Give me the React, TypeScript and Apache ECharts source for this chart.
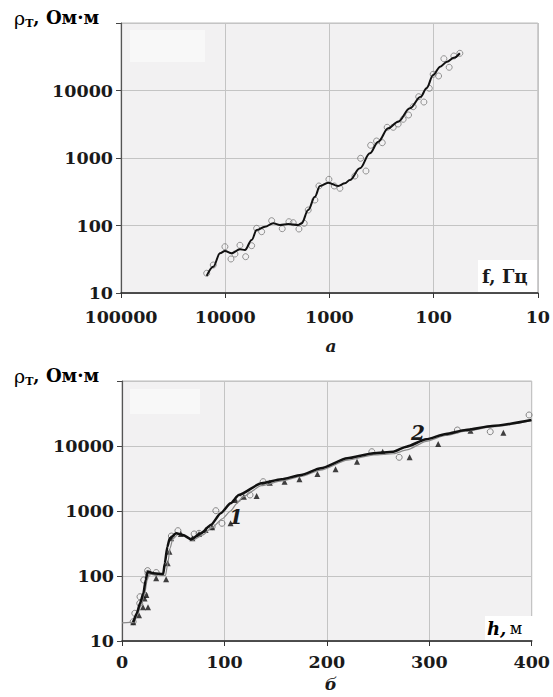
import React, { useEffect, useRef } from "react";
import * as echarts from "echarts";

// ---- Chart a: apparent resistivity vs frequency ----
const topLineF = [15060, 13020, 11230, 10060, 8670, 7220, 6465, 5575, 4993, 4156, 3460, 2984, 2485, 1992, 1848, 1597, 1378, 1233, 1027, 823, 710, 636, 510, 409, 340, 273, 219, 169, 133, 117, 101, 86.5, 74.3, 64, 56];
const topLineRho = [17.9, 24.5, 38.7, 41.9, 38.7, 44.4, 43.4, 61, 85.8, 96, 107.8, 101.7, 105.2, 101.7, 107.8, 170, 267, 385, 431, 385, 422, 472, 704, 1174, 1744, 2754, 3450, 5450, 8090, 10800, 16970, 22530, 26700, 30500, 35600];
const topPtF = [15060, 13020, 10060, 8810, 8065, 7220, 6365, 5575, 4993, 4472, 3584, 2837, 2447, 2225, 1961, 1745, 1597, 1378, 1261, 1011, 899, 793, 569, 502, 446, 402, 353, 311, 279, 244, 219, 196, 174, 157, 139, 124, 110, 101, 89.6, 79.7, 70.9, 64, 56];
const topPtRho = [19.6, 26.0, 48.5, 31.9, 37.8, 50.9, 34.5, 50.2, 90.9, 80.9, 117.8, 89.7, 113.8, 110, 88.7, 107.8, 169.7, 238.6, 385, 483, 385, 356, 541, 990, 642, 1542, 1786, 1685, 2850, 2850, 3190, 3745, 4335, 5750, 8090, 6750, 10780, 17380, 16400, 29580, 22070, 32430, 35580];

// ---- Chart б: resistivity vs depth ----
const curve1H = [0, 12, 15, 18.5, 22, 24.5, 26.5, 32, 42.5, 44.5, 47, 49.5, 55, 61, 69, 79, 88, 98, 106, 112, 118, 136, 156, 175, 194, 220, 246, 265, 278, 297, 316, 335, 361, 400];
const curve1Rho = [19, 19.5, 25, 36, 52, 85, 108, 104, 102, 150, 270, 370, 440, 415, 355, 430, 560, 760, 1000, 1300, 1650, 2450, 2900, 3400, 4250, 6050, 7300, 7600, 8700, 11800, 14500, 16900, 19600, 24500];
const curve2H = [11, 14.5, 17.6, 20.9, 23.1, 25, 30.5, 40.2, 41.8, 44.3, 46.6, 53, 59.5, 67.5, 77.1, 86.7, 96.4, 106, 114, 136.2, 155.5, 174.8, 194, 219.8, 245.5, 264.8, 277.6, 296.9, 316.1, 335.4, 361.2, 399.7];
const curve2Rho = [19.5, 26.7, 38, 54, 86.8, 116, 110, 107, 157, 282, 380, 454, 427, 367, 454, 609, 922, 1313, 1763, 2667, 3074, 3580, 4540, 6470, 7720, 8170, 9750, 12680, 15300, 17620, 20300, 25100];
const circH = [10.9, 12.5, 17.3, 17.6, 21.2, 22.2, 25, 25.4, 33.4, 48.2, 54.6, 70.4, 75.2, 88, 91.6, 97.6, 114, 125, 137.8, 243.9, 270.6, 327.4, 359.5, 397.4];
const circRho = [19.8, 26.7, 38, 48, 86.8, 51, 121, 110, 113, 412, 498, 443, 454, 573, 1011, 647, 1567, 1763, 2825, 8170, 6700, 17620, 16600, 30000];
const triH = [11, 16.6, 20.5, 22, 23.8, 25.4, 33.4, 43.1, 44.6, 46.3, 47.9, 57.5, 68.7, 75.2, 81.6, 88, 106, 110.5, 119, 131.4, 144.3, 158.7, 173.2, 190.8, 208.5, 229.4, 254.5, 280.8, 308.7, 340.2, 372.3];
const triRho = [19.5, 25, 33, 45, 51, 33, 92, 89, 157, 237, 380, 443, 380, 443, 510, 561, 650, 1476, 1650, 1701, 2724, 2825, 3074, 3708, 4384, 5730, 8170, 6700, 10730, 17200, 16030];

const topXTicks = [100000, 10000, 1000, 100, 10];
const bottomXTicks = [0, 100, 200, 300, 400];

const zip = (a: number[], b: number[]) => a.map((v, i) => [v, b[i]]);

const FONT = "DejaVu Serif";
const labelStyle = { fontFamily: FONT, fontWeight: "bold" as const, fontSize: 17.5, color: "#1a1a1a" };

function yAxis(gridIndex: number) {
  return {
    gridIndex,
    type: "log",
    logBase: 10,
    min: 10,
    max: 100000,
    axisLine: { show: true, lineStyle: { color: "#555", width: 1.2 } },
    axisTick: { show: true, length: 5, lineStyle: { color: "#444" } },
    axisLabel: {
      ...labelStyle,
      margin: 8,
      formatter: (v: number) => (Math.round(v) >= 100000 ? "" : String(Math.round(v))),
    },
    splitLine: { show: true, lineStyle: { color: "#c4c4c4", width: 1 } },
  };
}

const titleRich = {
  a: { fontFamily: FONT, fontSize: 19, color: "#1a1a1a" },
  b: { fontFamily: FONT, fontSize: 11, fontWeight: "bold", color: "#1a1a1a", padding: [11, 0, 0, 0] },
  c: { fontFamily: FONT, fontSize: 18, fontWeight: "bold", color: "#1a1a1a" },
};

export default function App() {
  const ref = useRef<HTMLDivElement>(null);
  useEffect(() => {
    if (!ref.current) return;
    const chart = echarts.init(ref.current, undefined, { renderer: "svg" });
    const option: any = {
      animation: false,
      backgroundColor: "#ffffff",
      grid: [
        { left: 121, top: 23, width: 417, height: 270, show: true, backgroundColor: "#f2f1f2", borderColor: "#bdbdbd", borderWidth: 1 },
        { left: 122, top: 381, width: 415, height: 260, show: true, backgroundColor: "#f2f1f2", borderColor: "#bdbdbd", borderWidth: 1 },
      ],
      xAxis: [
        {
          gridIndex: 0,
          type: "log",
          logBase: 10,
          min: topXTicks[topXTicks.length - 1],
          max: topXTicks[0],
          inverse: true,
          axisLine: { show: true, onZero: false, lineStyle: { color: "#222", width: 1.5 } },
          axisTick: { show: true, length: 5, lineStyle: { color: "#333" } },
          axisLabel: { ...labelStyle, margin: 15, formatter: (v: number) => String(Math.round(v)) },
          splitLine: { show: true, lineStyle: { color: "#c4c4c4", width: 1 } },
        },
        {
          gridIndex: 1,
          type: "value",
          min: bottomXTicks[0],
          max: bottomXTicks[bottomXTicks.length - 1],
          interval: 100,
          axisLine: { show: true, onZero: false, lineStyle: { color: "#222", width: 1.5 } },
          axisTick: { show: true, length: 5, lineStyle: { color: "#333" } },
          axisLabel: { ...labelStyle, margin: 12 },
          splitLine: { show: true, lineStyle: { color: "#c4c4c4", width: 1 } },
        },
      ],
      yAxis: [yAxis(0), yAxis(1)],
      series: [
        {
          type: "scatter",
          xAxisIndex: 0,
          yAxisIndex: 0,
          data: zip(topPtF, topPtRho),
          symbol: "circle",
          symbolSize: 6,
          itemStyle: { color: "rgba(0,0,0,0)", borderColor: "#7a7a7a", borderWidth: 1 },
          z: 2,
        },
        {
          type: "line",
          xAxisIndex: 0,
          yAxisIndex: 0,
          data: zip(topLineF, topLineRho),
          smooth: 0.35,
          smoothMonotone: "x",
          showSymbol: false,
          lineStyle: { color: "#111", width: 2 },
          z: 3,
        },
        {
          type: "scatter",
          xAxisIndex: 1,
          yAxisIndex: 1,
          data: zip(circH, circRho),
          symbol: "circle",
          symbolSize: 6,
          itemStyle: { color: "rgba(0,0,0,0)", borderColor: "#6a6a6a", borderWidth: 1 },
          z: 2,
        },
        {
          type: "scatter",
          xAxisIndex: 1,
          yAxisIndex: 1,
          data: zip(triH, triRho),
          symbol: "triangle",
          symbolSize: 6,
          itemStyle: { color: "#111" },
          z: 2,
        },
        {
          type: "line",
          xAxisIndex: 1,
          yAxisIndex: 1,
          data: zip(curve1H, curve1Rho),
          smooth: 0.2,
          smoothMonotone: "x",
          showSymbol: false,
          lineStyle: { color: "#8a8a8a", width: 1.2 },
          z: 3,
        },
        {
          type: "line",
          xAxisIndex: 1,
          yAxisIndex: 1,
          data: zip(curve2H, curve2Rho),
          smooth: 0.2,
          smoothMonotone: "x",
          showSymbol: false,
          lineStyle: { color: "#111", width: 2.5 },
          z: 4,
        },
      ],
      graphic: [
        { type: "rect", shape: { x: 130, y: 30, width: 75, height: 32 }, style: { fill: "#f8f8f8" }, z: 1 },
        { type: "rect", shape: { x: 130, y: 389, width: 70, height: 25 }, style: { fill: "#f8f8f8" }, z: 1 },
        {
          type: "text", left: 14, top: 8, z: 10,
          style: { text: "{a|ρ}{b|T}{c|, Ом·м}", rich: titleRich },
        },
        {
          type: "text", left: 14, top: 366, z: 10,
          style: { text: "{a|ρ}{b|T}{c|, Ом·м}", rich: titleRich },
        },
        { type: "rect", shape: { x: 478, y: 260, width: 59, height: 32 }, style: { fill: "#ffffff" }, z: 5 },
        {
          type: "text", x: 482, y: 276, z: 10,
          style: { text: "f, Гц", fontFamily: FONT, fontWeight: "bold", fontSize: 18, fill: "#1a1a1a", verticalAlign: "middle" },
        },
        { type: "rect", shape: { x: 485, y: 616, width: 51, height: 24 }, style: { fill: "#ffffff" }, z: 5 },
        {
          type: "text", x: 487, y: 628, z: 10,
          style: {
            text: "{h|h,} {m|м}",
            verticalAlign: "middle",
            rich: {
              h: { fontFamily: FONT, fontWeight: "bold", fontStyle: "italic", fontSize: 18, color: "#1a1a1a" },
              m: { fontFamily: FONT, fontSize: 16, color: "#1a1a1a" },
            },
          },
        },
        {
          type: "text", x: 331, y: 346, z: 10,
          style: { text: "а", fontFamily: FONT, fontWeight: "bold", fontStyle: "italic", fontSize: 17, fill: "#1a1a1a", align: "center", verticalAlign: "middle" },
        },
        {
          type: "text", x: 331, y: 684, z: 10,
          style: { text: "б", fontFamily: FONT, fontWeight: "bold", fontStyle: "italic", fontSize: 17, fill: "#1a1a1a", align: "center", verticalAlign: "middle" },
        },
        {
          type: "text", x: 236, y: 517, z: 10,
          style: { text: "1", fontFamily: FONT, fontWeight: "bold", fontStyle: "italic", fontSize: 20, fill: "#1a1a1a", align: "center", verticalAlign: "middle" },
        },
        {
          type: "text", x: 418, y: 433, z: 10,
          style: { text: "2", fontFamily: FONT, fontWeight: "bold", fontStyle: "italic", fontSize: 20, fill: "#1a1a1a", align: "center", verticalAlign: "middle" },
        },
      ],
    };
    chart.setOption(option);
    return () => chart.dispose();
  }, []);
  return <div ref={ref} style={{ position: "absolute", left: 0, top: 0, width: 553, height: 697 }} />;
}
